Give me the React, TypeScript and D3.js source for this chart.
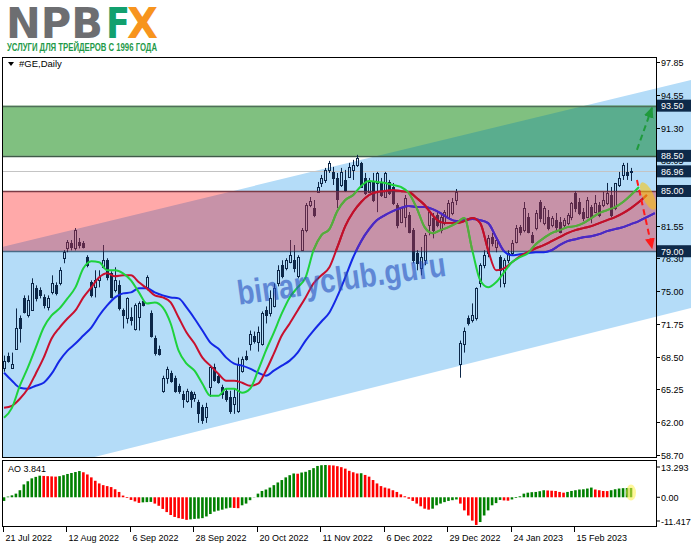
import React, { useEffect, useRef } from 'react';
import * as d3 from 'd3';

// daily candles [open, high, low, close], 21 Jul 2022 .. 2 Mar 2023
const candles: [number, number, number, number][] = [
  [67.4, 68.6, 67.0, 68.1], [68.6, 68.9, 67.9, 68.1], [67.4, 68.9, 67.3, 67.8], [69.3, 73.3, 69.2, 71.4],
  [72.3, 72.6, 69.9, 71.4], [74.3, 74.6, 72.8, 72.9], [72.6, 74.6, 72.4, 74.1], [73.1, 76.3, 73.1, 75.8],
  [75.3, 75.6, 74.0, 74.3], [75.1, 75.4, 74.3, 74.6], [74.4, 74.7, 73.3, 73.6], [73.4, 74.6, 73.1, 74.3],
  [74.9, 76.6, 74.7, 75.8], [75.6, 75.9, 74.6, 74.8], [75.8, 77.4, 75.6, 77.1], [78.3, 79.1, 77.8, 78.9],
  [79.3, 80.1, 78.9, 79.9], [79.8, 80.1, 79.1, 79.4], [79.3, 81.3, 79.1, 81.1], [79.9, 80.3, 79.3, 79.6],
  [79.8, 80.0, 79.3, 79.4], [78.4, 78.6, 77.4, 77.6], [75.9, 76.1, 74.4, 74.6], [75.4, 77.1, 74.4, 76.1],
  [76.1, 77.1, 75.4, 76.4], [77.4, 79.6, 77.3, 78.1], [78.1, 78.3, 76.1, 76.4], [76.8, 77.0, 74.3, 74.4],
  [75.1, 77.4, 74.9, 76.1], [75.6, 76.1, 73.1, 73.3], [73.1, 73.3, 71.3, 72.6], [72.3, 74.4, 71.8, 74.3],
  [72.4, 73.4, 71.6, 72.1], [71.3, 73.8, 71.1, 73.6], [72.4, 74.0, 71.1, 73.8], [74.0, 74.1, 73.5, 73.6],
  [75.4, 76.6, 75.1, 76.4], [72.8, 73.1, 70.4, 70.6], [70.4, 70.6, 68.6, 68.9], [69.3, 69.6, 68.6, 68.8],
  [65.1, 66.6, 64.9, 66.4], [66.4, 67.5, 65.8, 67.3], [66.9, 67.1, 65.9, 66.1], [66.4, 66.6, 64.9, 65.1],
  [65.6, 65.8, 64.8, 65.1], [64.8, 65.1, 63.4, 64.3], [64.1, 65.3, 63.9, 65.1], [65.0, 65.1, 63.4, 64.3],
  [64.4, 65.0, 64.0, 64.8], [64.0, 64.2, 61.9, 62.9], [63.5, 63.7, 61.8, 62.2], [62.5, 63.9, 61.9, 63.5],
  [65.5, 67.6, 64.5, 67.5], [67.5, 67.8, 66.0, 66.2], [66.6, 66.8, 65.8, 66.0], [65.5, 65.7, 64.3, 64.8],
  [65.1, 65.3, 64.0, 64.3], [64.5, 65.1, 62.8, 63.1], [63.8, 65.3, 62.8, 64.5], [63.1, 68.4, 62.9, 67.8],
  [67.1, 68.5, 66.9, 68.3], [68.6, 69.1, 68.1, 68.3], [69.8, 71.1, 69.1, 70.8], [70.6, 71.0, 69.8, 70.1],
  [70.0, 71.5, 69.0, 71.0], [69.8, 73.0, 69.6, 72.8], [73.1, 73.5, 71.8, 72.6], [72.8, 75.1, 72.5, 74.3],
  [73.5, 75.8, 73.4, 75.3], [75.8, 77.6, 75.5, 77.1], [77.6, 78.1, 76.3, 76.5], [77.3, 78.3, 77.1, 78.1],
  [77.9, 80.1, 77.8, 78.6], [78.1, 79.6, 76.9, 77.3], [76.5, 78.6, 76.3, 78.4], [79.1, 81.3, 79.1, 81.1],
  [81.1, 83.8, 80.9, 83.6], [83.6, 84.4, 83.4, 84.0], [83.3, 84.1, 82.4, 82.6], [84.9, 85.9, 84.8, 85.4],
  [85.8, 86.6, 85.4, 86.3], [86.1, 87.3, 85.8, 87.1], [87.1, 88.0, 86.8, 87.8], [86.9, 87.4, 85.6, 86.3],
  [86.3, 86.8, 83.3, 84.2], [85.6, 87.3, 85.4, 86.9], [86.1, 87.1, 84.9, 85.1], [86.4, 87.8, 86.3, 87.4],
  [87.1, 88.1, 86.1, 87.6], [87.6, 88.6, 87.4, 88.3], [87.8, 87.9, 85.3, 85.4], [86.3, 86.8, 84.6, 84.8],
  [84.9, 86.3, 84.8, 85.9], [85.9, 86.8, 83.9, 84.1], [85.8, 86.9, 82.9, 86.8], [85.8, 86.3, 84.4, 84.6],
  [84.4, 86.9, 84.3, 86.8], [85.9, 86.1, 84.6, 84.8], [85.4, 85.8, 83.6, 83.8], [83.6, 83.8, 81.3, 81.6],
  [81.9, 83.4, 81.8, 83.3], [82.4, 84.6, 81.4, 84.3], [82.6, 82.9, 80.8, 80.9], [81.1, 81.3, 77.8, 78.1],
  [78.8, 79.1, 77.1, 77.8], [77.3, 79.4, 76.6, 78.4], [78.1, 80.8, 77.6, 80.6], [81.6, 83.1, 80.6, 82.9],
  [82.3, 82.8, 80.3, 81.1], [82.6, 82.9, 81.4, 81.6], [81.1, 82.8, 80.8, 82.4], [81.8, 83.1, 81.6, 82.9],
  [82.4, 84.1, 82.3, 83.8], [82.8, 84.3, 82.6, 83.9], [84.1, 85.2, 83.6, 84.9], [67.8, 70.1, 66.4, 69.9],
  [69.8, 71.4, 68.9, 71.1], [72.3, 72.6, 71.6, 71.8], [72.1, 73.8, 71.9, 72.6], [72.3, 75.4, 72.1, 75.3],
  [75.8, 77.8, 75.4, 77.6], [77.6, 79.1, 77.3, 78.6], [78.8, 80.6, 78.4, 80.3], [80.4, 80.8, 79.5, 79.8],
  [79.4, 80.3, 78.9, 80.1], [78.4, 78.6, 75.4, 77.1], [75.8, 78.3, 75.4, 78.1], [78.1, 79.1, 77.8, 78.8],
  [78.8, 80.1, 78.6, 79.8], [79.9, 81.6, 79.8, 81.3], [81.4, 81.6, 80.6, 80.9], [81.1, 83.9, 80.9, 83.3],
  [82.4, 82.8, 80.8, 80.9], [80.6, 80.9, 79.8, 79.9], [81.3, 83.1, 81.1, 82.8], [83.9, 84.1, 81.9, 82.3],
  [81.8, 83.5, 81.6, 83.3], [82.4, 83.1, 81.1, 81.3], [81.6, 82.5, 81.4, 82.3], [82.1, 82.8, 80.9, 81.4],
  [81.9, 82.4, 80.8, 80.9], [81.6, 82.3, 81.4, 82.1], [81.8, 82.8, 81.6, 82.6], [82.4, 83.9, 82.1, 83.8],
  [84.8, 85.0, 82.9, 83.3], [83.9, 84.3, 82.6, 82.8], [82.9, 83.3, 82.0, 82.3], [82.4, 84.4, 82.3, 84.1],
  [83.4, 83.6, 81.8, 82.4], [82.9, 84.6, 82.8, 83.8], [83.6, 83.9, 82.4, 82.6], [83.6, 84.9, 83.4, 84.1],
  [83.8, 85.8, 83.6, 84.8], [84.6, 85.4, 82.4, 82.6], [83.3, 85.8, 83.1, 85.8], [85.6, 86.9, 85.4, 86.3],
  [86.6, 87.8, 86.1, 87.6], [86.9, 87.8, 86.1, 86.6], [86.9, 87.3, 86.0, 86.96],
];

// Awesome Oscillator, one value per bar
const aoValues = [
  -1.5, 0.3, 0.8, 1.5, 2.9, 5.3, 6.6, 7.8, 8.4, 8.9,
  8.8, 8.7, 8.6, 8.5, 8.7, 9.1, 9.6, 10.0, 10.4, 10.8,
  10.3, 9.4, 8.2, 6.8, 5.7, 5.0, 4.6, 4.2, 3.3, 2.2,
  0.7, -0.3, -1.1, -1.7, -2.3, -2.1, -2.0, -1.9, -2.6, -3.5,
  -4.8, -6.1, -7.3, -8.1, -8.6, -8.9, -9.3, -9.1, -8.9, -8.8,
  -8.6, -7.9, -6.9, -5.9, -5.5, -5.1, -4.6, -4.3, -4.4, -4.5,
  -3.3, -2.6, -1.2, -0.1, 1.5, 2.6, 3.2, 4.0, 5.0, 6.1,
  7.1, 8.2, 9.1, 9.8, 9.7, 10.2, 10.5, 11.2, 12.0, 12.9,
  13.2, 13.29, 13.2, 13.1, 12.8, 12.4, 11.8, 10.9, 10.3, 9.8,
  9.9, 9.2, 8.5, 7.1, 5.7, 4.6, 4.0, 3.6, 2.9, 2.2,
  1.2, 0.4, -0.6, -1.5, -2.6, -3.7, -4.7, -5.1, -4.7, -3.3,
  -2.6, -2.0, -1.5, -1.2, -0.9, -2.6, -5.4, -7.5, -9.6, -11.4,
  -10.2, -7.5, -5.4, -3.3, -2.4, -1.1, -1.3, -1.4, -0.9, -0.3,
  0.4, 1.5, 1.9, 2.1, 2.2, 2.5, 2.9, 2.8, 2.7, 2.6,
  2.2, 1.9, 2.2, 2.6, 2.9, 3.2, 3.3, 3.6, 4.0, 3.2,
  2.9, 2.6, 2.55, 2.9, 3.3, 3.6, 3.75, 3.8, 3.841,
];

// alligator lines, sampled every 2 bars starting at bar 0
const lineStep = 2;
const lipsValues = [
  62.4, 63.4, 65.6, 67.4, 69.4, 71.4, 72.6, 73.3, 74.3, 75.4,
  77.3, 78.0, 77.9, 77.1, 77.1, 76.8, 76.1, 74.9, 73.8, 73.9,
  73.4, 71.8, 69.1, 67.8, 67.1, 65.8, 64.6, 64.6, 65.3, 65.3,
  64.9, 65.3, 67.1, 69.1, 70.9, 72.8, 74.4, 75.4, 76.4, 79.1,
  80.6, 81.2, 83.0, 84.1, 84.6, 85.5, 86.0, 85.9, 85.8, 85.6,
  85.4, 84.8, 83.3, 81.4, 80.8, 81.1, 81.4, 81.8, 82.3, 79.1,
  76.1, 75.4, 75.9, 76.9, 77.9, 78.4, 78.8, 79.7, 80.3, 80.8,
  81.1, 81.4, 81.5, 81.8, 82.3, 82.8, 83.1, 83.4, 83.9, 84.6,
  85.4,
];
const teethValues = [
  63.4, 63.6, 64.3, 65.3, 66.8, 68.4, 70.3, 71.4, 72.3, 73.1,
  74.4, 75.4, 76.4, 76.8, 76.5, 76.6, 76.6, 75.9, 75.3, 74.6,
  74.4, 73.9, 72.4, 70.9, 69.8, 68.4, 67.6, 66.8, 66.1, 66.1,
  65.9, 65.6, 65.8, 67.1, 68.8, 70.6, 71.8, 73.1, 74.4, 75.8,
  76.6, 77.4, 79.4, 81.5, 82.9, 83.9, 84.6, 84.9, 85.0, 85.1,
  85.0, 84.9, 84.3, 83.6, 82.6, 81.9, 81.8, 81.8, 82.0, 82.3,
  81.8, 79.1, 77.1, 77.3, 77.9, 78.5, 78.9, 79.3, 79.6, 80.0,
  80.4, 80.8, 81.1, 81.3, 81.5, 81.8, 82.1, 82.4, 82.8, 83.3,
  83.9, 84.6,
];
const jawValues = [
  66.9, 66.1, 65.4, 65.3, 65.6, 65.9, 66.8, 68.1, 69.1, 69.8,
  70.6, 71.4, 72.6, 73.6, 74.4, 74.8, 74.9, 75.3, 75.3, 74.9,
  74.6, 74.4, 74.3, 73.4, 72.3, 71.1, 69.9, 69.3, 68.4, 67.8,
  67.6, 67.3, 66.9, 66.6, 67.1, 67.6, 68.1, 68.9, 70.1, 71.1,
  72.0, 72.9, 74.5, 76.4, 78.4, 80.0, 81.2, 82.1, 82.6, 83.0,
  83.3, 83.5, 83.4, 83.4, 83.2, 82.8, 82.3, 82.0, 82.1, 82.2,
  82.1, 81.8, 80.4, 79.0, 78.6, 78.7, 78.8, 78.9, 78.9, 79.1,
  79.6, 80.0, 80.2, 80.4, 80.5, 80.7, 81.0, 81.2, 81.4, 81.7,
  82.0, 82.4, 82.8,
];

const dateLabels = ['21 Jul 2022', '12 Aug 2022', '6 Sep 2022', '28 Sep 2022', '20 Oct 2022',
  '11 Nov 2022', '6 Dec 2022', '29 Dec 2022', '24 Jan 2023', '15 Feb 2023'];
const dateBars = [0, 16, 32, 48, 64, 80, 96, 112, 128, 144];

const priceTicks = [97.85, 94.55, 91.30, 88.05, 84.80, 81.55, 78.30, 75.00, 71.75, 68.50, 65.25, 62.00, 58.70];
const aoTicks = [13.293, 0, -11.417];

const buyZone = [88.5, 93.5];
const sellZone = [79.0, 85.0];
const lastPrice = 86.96;
const levelLabels = [93.5, 88.5, 86.96, 85.0, 79.0];

// ascending channel: two bar positions with top and bottom prices
const channelBars = [-1, 175];
const channelTop = [79.38, 96.24];
const channelBottom = [56.15, 73.53];

// annotations (bar, price)
const upArrow: [number, number][] = [[159.5, 89.1], [163.3, 93.3]];
const downArrow: [number, number][] = [[159.5, 86.1], [163.3, 79.3]];
const highlight: [number, number] = [162.3, 84.5];
const watermarkAt: [number, number] = [85, 76.3];

const FONT = "'Liberation Sans', Arial, sans-serif";

export default function App() {
  const svgRef = useRef<SVGSVGElement>(null);

  useEffect(() => {
    if (!svgRef.current) return;
    const svg = d3.select(svgRef.current);
    svg.selectAll('*').remove();

    const left = 3, right = 656, top = 57, bottom = 457;
    const aoTop = 460, aoBottom = 527;

    const x = d3.scaleLinear().domain([0, candles.length - 1]).range([4, 631]);
    const y = d3.scaleLinear().domain([58.7, 97.85]).range([455, 62]);
    const yAo = d3.scaleLinear().domain([-11.417, 13.293]).range([525, 465]);

    const defs = svg.append('defs');
    defs.append('clipPath').attr('id', 'plotClip').append('rect')
      .attr('x', left).attr('y', top).attr('width', right - left).attr('height', bottom - top);
    defs.append('clipPath').attr('id', 'wideClip').append('rect')
      .attr('x', left).attr('y', top).attr('width', 691 - left).attr('height', bottom - top);
    const chanPts = [
      [x(channelBars[0]), y(channelTop[0])], [x(channelBars[1]), y(channelTop[1])],
      [x(channelBars[1]), y(channelBottom[1])], [x(channelBars[0]), y(channelBottom[0])],
    ].map(p => p.join(',')).join(' ');
    defs.append('clipPath').attr('id', 'chanClip').append('polygon').attr('points', chanPts);
    defs.append('clipPath').attr('id', 'pinkClip').append('rect')
      .attr('x', left).attr('y', y(sellZone[1])).attr('width', right - left)
      .attr('height', y(sellZone[0]) - y(sellZone[1]));
    defs.append('clipPath').attr('id', 'aoClip').append('rect')
      .attr('x', left).attr('y', aoTop).attr('width', right - left).attr('height', aoBottom - aoTop);

    const marker = (id: string, color: string) => {
      defs.append('marker').attr('id', id).attr('viewBox', '0 -5 10 10')
        .attr('refX', 9).attr('refY', 0).attr('markerWidth', 11).attr('markerHeight', 11)
        .attr('markerUnits', 'userSpaceOnUse').attr('orient', 'auto')
        .append('path').attr('d', 'M0,-4.5L10,0L0,4.5Z').attr('fill', color);
    };
    marker('headG', '#1f9a3c');
    marker('headR', '#ff1a1a');

    svg.append('rect').attr('width', 691).attr('height', 549).attr('fill', '#ffffff');

    // logo
    const logo = svg.append('g').attr('font-family', "'DejaVu Sans', sans-serif").attr('font-weight', 'bold').attr('font-size', 42);
    logo.append('text').attr('x', 6).attr('y', 38).attr('fill', '#6d6e71')
      .attr('textLength', 97).attr('lengthAdjust', 'spacingAndGlyphs').text('NPB');
    logo.append('text').attr('x', 106).attr('y', 38).attr('fill', '#12a06e')
      .attr('textLength', 24).attr('lengthAdjust', 'spacingAndGlyphs').text('F');
    logo.append('text').attr('x', 127).attr('y', 38).attr('fill', '#f7941d')
      .attr('textLength', 31).attr('lengthAdjust', 'spacingAndGlyphs').text('X');
    svg.append('text').attr('x', 7).attr('y', 50.5).attr('fill', '#1f9a4a')
      .attr('font-family', FONT).attr('font-weight', 'bold').attr('font-size', 10.5)
      .attr('textLength', 150).attr('lengthAdjust', 'spacingAndGlyphs')
      .text('УСЛУГИ ДЛЯ ТРЕЙДЕРОВ С 1996 ГОДА');

    // channel (runs over the price scale too)
    svg.append('polygon').attr('points', chanPts).attr('fill', '#b4dcf8').attr('clip-path', 'url(#wideClip)');

    const plot = svg.append('g').attr('clip-path', 'url(#plotClip)');

    // zones
    const zone = (lo: number, hi: number, fill: string, overlap: string) => {
      plot.append('rect').attr('x', left).attr('y', y(hi)).attr('width', right - left)
        .attr('height', y(lo) - y(hi)).attr('fill', fill);
      plot.append('g').attr('clip-path', 'url(#chanClip)').append('rect')
        .attr('x', left).attr('y', y(hi)).attr('width', right - left)
        .attr('height', y(lo) - y(hi)).attr('fill', overlap);
    };
    zone(buyZone[0], buyZone[1], '#80c080', '#5aad8e');
    zone(sellZone[0], sellZone[1], '#ffa9a9', '#c792a8');

    const hline = (v: number, color: string, w: number) => {
      plot.append('line').attr('x1', left).attr('x2', right)
        .attr('y1', Math.round(y(v)) + 0.5).attr('y2', Math.round(y(v)) + 0.5)
        .attr('stroke', color).attr('stroke-width', w);
    };
    hline(lastPrice, '#c4c4c4', 1);
    hline(buyZone[1], '#4f6f58', 1.5);
    hline(buyZone[0], '#3f5a48', 1.5);
    hline(sellZone[1], '#7a3b45', 1.5);
    hline(sellZone[0], '#4b6b86', 1.5);

    // candles
    const drawCandles = (g: d3.Selection<SVGGElement, unknown, null, undefined>, color: string) => {
      candles.forEach((d, i) => {
        const [o, h, l, c] = d;
        const px = Math.round(x(i));
        const yt = Math.round(y(Math.max(o, c))) + 0.5;
        const yb = Math.max(yt + 1, Math.round(y(Math.min(o, c))) + 0.5);
        g.append('line').attr('x1', px + 0.5).attr('x2', px + 0.5)
          .attr('y1', y(h)).attr('y2', yt).attr('stroke', color);
        g.append('line').attr('x1', px + 0.5).attr('x2', px + 0.5)
          .attr('y1', yb).attr('y2', y(l)).attr('stroke', color);
        g.append('rect').attr('x', px - 0.5).attr('y', yt).attr('width', 2).attr('height', yb - yt)
          .attr('fill', c >= o ? 'none' : color).attr('stroke', color).attr('stroke-width', 1);
      });
    };
    drawCandles(plot.append('g'), '#0c2748');

    // alligator
    const line = d3.line<number>()
      .x((_, k) => x(k * lineStep))
      .y(v => y(v))
      .curve(d3.curveMonotoneX);
    const drawLines = (g: d3.Selection<SVGGElement, unknown, null, undefined>, colors: string[]) => {
      [jawValues, teethValues, lipsValues].forEach((vals, k) => {
        g.append('path').attr('d', line(vals)).attr('fill', 'none')
          .attr('stroke', colors[k]).attr('stroke-width', 2);
      });
    };
    drawLines(plot.append('g'), ['#1428e6', '#c8102e', '#1ed23c']);

    // tinted copies inside the sell zone
    const tint = plot.append('g').attr('clip-path', 'url(#pinkClip)');
    drawCandles(tint.append('g'), '#5b2a4a');
    drawLines(tint.append('g'), ['#5028c0', '#c0102a', '#5aa83c']);

    // watermark
    plot.append('text').attr('x', 0).attr('y', 0)
      .attr('transform', `translate(${x(watermarkAt[0])},${y(watermarkAt[1])}) rotate(-8)`)
      .attr('text-anchor', 'middle').attr('dominant-baseline', 'central')
      .attr('font-family', FONT).attr('font-weight', 'bold').attr('font-size', 34)
      .attr('textLength', 210).attr('lengthAdjust', 'spacingAndGlyphs')
      .attr('fill', '#2850be').attr('opacity', 0.6).text('binaryclub.guru');

    // arrows and highlight
    svg.append('ellipse')
      .attr('transform', `translate(${x(highlight[0])},${y(highlight[1])}) rotate(-25)`)
      .attr('rx', 5.5).attr('ry', 15).attr('fill', '#ffc400').attr('opacity', 0.55);
    svg.append('line')
      .attr('x1', x(upArrow[0][0])).attr('y1', y(upArrow[0][1]))
      .attr('x2', x(upArrow[1][0])).attr('y2', y(upArrow[1][1]))
      .attr('stroke', '#1f9a3c').attr('stroke-width', 2).attr('stroke-dasharray', '6,4')
      .attr('marker-end', 'url(#headG)');
    svg.append('line')
      .attr('x1', x(downArrow[0][0])).attr('y1', y(downArrow[0][1]))
      .attr('x2', x(downArrow[1][0])).attr('y2', y(downArrow[1][1]))
      .attr('stroke', '#ff1a1a').attr('stroke-width', 2).attr('stroke-dasharray', '6,4')
      .attr('marker-end', 'url(#headR)');

    // AO panel
    const ao = svg.append('g').attr('clip-path', 'url(#aoClip)');
    ao.append('rect').attr('x', left).attr('y', aoTop).attr('width', right - left)
      .attr('height', aoBottom - aoTop).attr('fill', '#ffffff');
    aoValues.forEach((v, i) => {
      const up = i === 0 || v > aoValues[i - 1];
      ao.append('rect').attr('x', x(i) - 1.3).attr('width', 2.6)
        .attr('y', Math.min(yAo(0), yAo(v))).attr('height', Math.abs(yAo(v) - yAo(0)))
        .attr('fill', up ? '#008000' : '#ff0000');
    });
    const lastAo = aoValues.length - 1;
    ao.append('ellipse').attr('cx', x(lastAo)).attr('cy', yAo(aoValues[lastAo] / 2))
      .attr('rx', 5).attr('ry', 8).attr('fill', '#fff04a').attr('opacity', 0.55);

    // frames
    const frame = svg.append('g').attr('stroke', '#000').attr('stroke-width', 1).attr('fill', 'none');
    frame.append('rect').attr('x', left - 0.5).attr('y', top + 0.5).attr('width', right - left + 1).attr('height', bottom - top);
    frame.append('rect').attr('x', left - 0.5).attr('y', aoTop + 0.5).attr('width', right - left + 1).attr('height', aoBottom - aoTop - 1);

    const txt = svg.append('g').attr('font-family', FONT).attr('font-size', 9).attr('fill', '#000');

    // price scale
    priceTicks.forEach(v => {
      const yy = Math.round(y(v)) + 0.5;
      svg.append('line').attr('x1', right + 0.5).attr('x2', right + 4).attr('y1', yy).attr('y2', yy).attr('stroke', '#000');
      txt.append('text').attr('x', 661).attr('y', yy + 3.5).text(v.toFixed(2));
    });
    levelLabels.forEach(v => {
      const yy = y(v);
      svg.append('rect').attr('x', right + 1).attr('y', yy - 6).attr('width', 691 - right - 1).attr('height', 12)
        .attr('fill', '#0e2a4a');
      svg.append('text').attr('x', 661).attr('y', yy + 3.5).attr('font-family', FONT).attr('font-size', 9)
        .attr('fill', '#ffffff').text(v.toFixed(2));
    });

    // AO scale
    aoTicks.forEach(v => {
      const yy = Math.max(467, Math.min(521, yAo(v)));
      svg.append('line').attr('x1', right + 0.5).attr('x2', right + 4).attr('y1', yy).attr('y2', yy).attr('stroke', '#000');
      txt.append('text').attr('x', 661).attr('y', yy + 3.5).text(v === 0 ? '0.00' : v.toFixed(3));
    });

    // date scale
    dateBars.forEach((b, k) => {
      const xx = Math.round(x(b)) - 0.5;
      svg.append('line').attr('x1', xx).attr('x2', xx).attr('y1', aoBottom).attr('y2', aoBottom + 5).attr('stroke', '#000');
      txt.append('text').attr('x', xx + 2).attr('y', 541).text(dateLabels[k]);
    });

    // titles
    svg.append('path').attr('d', 'M8,62 L14,62 L11,66 Z').attr('fill', '#000');
    txt.append('text').attr('x', 19).attr('y', 67).attr('font-size', 9.5).text('#GE,Daily');
    txt.append('text').attr('x', 8).attr('y', 472).text(`AO ${aoValues[lastAo]}`);
  }, []);

  return (
    <svg
      ref={svgRef}
      width={691}
      height={549}
      style={{ position: 'absolute', left: 0, top: 0, display: 'block' }}
    />
  );
}
